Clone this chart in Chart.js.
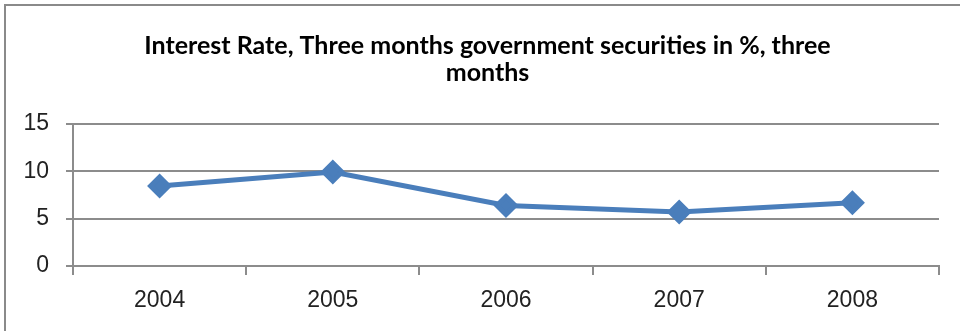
<!DOCTYPE html>
<html>
<head>
<meta charset="utf-8">
<script src="https://cdn.jsdelivr.net/npm/chart.js@4"></script>
<style>
  html, body { margin: 0; padding: 0; background: #fff; }
  #wrap { position: relative; width: 960px; height: 331px; }
</style>
</head>
<body>
<div id="wrap"><canvas id="myChart" width="960" height="331"></canvas></div>
<script>
const years = ['2004', '2005', '2006', '2007', '2008']
const rates = [8.45, 9.93, 6.4, 5.7, 6.69]
const yTicks = [0, 5, 10, 15]
const titleLines = ['Interest Rate, Three months government securities in %, three', 'months']

const gridGray = '#8c8c8c'
const lineBlue = '#4a7ebb'

// grey frame on the top and left edge, like the cropped Excel chart
const framePlugin = {
  id: 'frame',
  beforeDraw(chart) {
    const c = chart.ctx
    c.save()
    c.fillStyle = '#fff'
    c.fillRect(0, 0, chart.width, chart.height)
    c.strokeStyle = '#8a8a8a'
    c.lineWidth = 2
    c.beginPath()
    c.moveTo(5, chart.height)
    c.lineTo(5, 5)
    c.lineTo(chart.width, 5)
    c.stroke()
    c.restore()
  },
  // the title sits a bit right of the canvas centre in the original
  afterLayout(chart) {
    if (chart.titleBlock) {
      chart.titleBlock.left += 13
      chart.titleBlock.right += 13
    }
  }
}

const ctx = document.getElementById('myChart')

new Chart(ctx, {
  type: 'line',
  data: {
    labels: years,
    datasets: [
      {
        data: rates,
        borderColor: lineBlue,
        backgroundColor: lineBlue,
        borderWidth: 5,
        pointStyle: 'rectRot',
        pointRadius: 9,
        pointHoverRadius: 9,
        tension: 0
      }
    ]
  },
  options: {
    responsive: false,
    animation: false,
    layout: { padding: { left: 10, right: 21, top: 0, bottom: 0 } },
    plugins: {
      legend: { display: false },
      tooltip: { enabled: false },
      title: {
        display: true,
        text: titleLines,
        color: '#000',
        font: { family: 'Lato', size: 25, weight: 'bold', lineHeight: 1.08 },
        padding: { top: 32, bottom: 38 }
      }
    },
    scales: {
      x: {
        offset: true,
        afterFit: s => { s.height = 65 },
        grid: {
          offset: true,
          drawOnChartArea: false,
          drawTicks: true,
          tickLength: 9,
          color: gridGray,
          lineWidth: 2
        },
        border: { display: true, color: gridGray, width: 2 },
        ticks: {
          color: '#222',
          padding: 12,
          font: { family: 'Liberation Sans', size: 23 }
        }
      },
      y: {
        min: 0,
        max: 15,
        afterFit: s => { s.width = 63 },
        afterBuildTicks: s => { s.ticks = yTicks.map(v => ({ value: v })) },
        grid: {
          color: gridGray,
          lineWidth: 2,
          drawTicks: true,
          tickLength: 7
        },
        border: { display: true, color: gridGray, width: 2 },
        ticks: {
          color: '#222',
          padding: 17,
          font: { family: 'Liberation Sans', size: 23 }
        }
      }
    }
  },
  plugins: [framePlugin]
})
</script>
</body>
</html>
